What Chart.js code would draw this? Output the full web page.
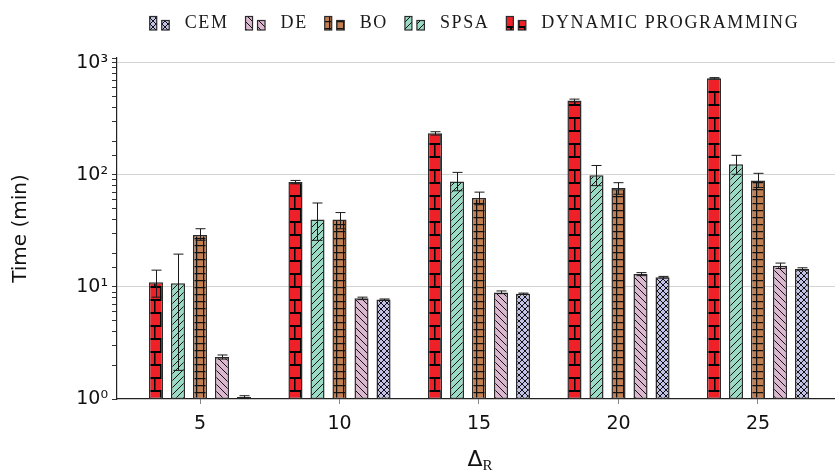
<!DOCTYPE html>
<html>
<head>
<meta charset="utf-8">
<script src="https://cdn.jsdelivr.net/npm/chart.js@4/dist/chart.umd.min.js"></script>
<style>
  html, body { margin: 0; padding: 0; background: #fff; }
</style>
</head>
<body>
<canvas id="chart" width="835" height="473"></canvas>
<script>
// values (minutes)
const categories = [5, 10, 15, 20, 25];

const dpMean  = [11.0, 86, 234, 460, 725];
const dpLow   = [8.1, 83, 226, 447, 715];
const dpHigh  = [14.1, 89, 242, 473, 735];

const spsaMean = [10.8, 40, 87, 99, 124];
const spsaLow  = [1.8, 26, 72, 80, 101];
const spsaHigh = [19.6, 56, 105, 121, 149];

const boMean = [29, 40, 62, 76, 89];
const boLow  = [26, 33, 54, 67, 77];
const boHigh = [33, 46, 70, 85, 103];

const deMean = [2.37, 7.9, 8.9, 13.0, 15.4];
const deLow  = [2.27, 7.7, 8.7, 12.6, 14.6];
const deHigh = [2.47, 8.1, 9.2, 13.4, 16.3];

const cemMean = [1.04, 7.7, 8.7, 12.2, 14.4];
const cemLow  = [1.01, 7.6, 8.6, 12.0, 14.1];
const cemHigh = [1.07, 7.8, 8.8, 12.4, 14.8];

const yTickPowers = [0, 1, 2, 3];

const SANS = '"DejaVu Sans", sans-serif';
const SERIF = '"Liberation Serif", serif';
const EDGE = '#2b2b2b';

// pattern tiles, pgfplots style
function makePattern(kind, bg) {
  const t = document.createElement('canvas');
  let w = 7, h = 7;
  if (kind === 'bricks') { w = 14; h = 26; }
  if (kind === 'cross') { w = 6; h = 6; }
  t.width = w; t.height = h;
  const c = t.getContext('2d');
  c.fillStyle = bg;
  c.fillRect(0, 0, w, h);
  c.strokeStyle = '#111';
  c.lineWidth = 1;
  c.beginPath();
  if (kind === 'bricks') {
    c.strokeStyle = '#000';
    c.fillStyle = '#000';
    // mortar lines as filled strips
    c.fillRect(0, 0, w, 2);
    c.fillRect(0, 13, w, 2);
    c.fillRect(6, 0, 2, 13);
    c.fillRect(0, 13, 1.5, 13);
  } else if (kind === 'ne') {
    c.moveTo(-1, h + 1); c.lineTo(w + 1, -1);
    c.moveTo(-1, 1); c.lineTo(1, -1);
    c.moveTo(w - 1, h + 1); c.lineTo(w + 1, h - 1);
  } else if (kind === 'nw') {
    c.moveTo(-1, -1); c.lineTo(w + 1, h + 1);
    c.moveTo(w - 1, -1); c.lineTo(w + 1, 1);
    c.moveTo(-1, h - 1); c.lineTo(1, h + 1);
  } else if (kind === 'grid') {
    c.lineWidth = 1.3;
    c.moveTo(0, 0.6); c.lineTo(w, 0.6);
    c.moveTo(0.6, 0); c.lineTo(0.6, h);
  } else if (kind === 'cross') {
    c.moveTo(0, 0); c.lineTo(w, h);
    c.moveTo(w, 0); c.lineTo(0, h);
  }
  c.stroke();
  return c.createPattern(t, 'repeat');
}

const ctx = document.getElementById('chart').getContext('2d');

const pts = arr => categories.map((x, i) => ({ x: x, y: arr[i] }));

const series = [
  { label: 'DYNAMIC PROGRAMMING', mean: dpMean, low: dpLow, high: dpHigh, fill: makePattern('bricks', '#ee2028') },
  { label: 'SPSA', mean: spsaMean, low: spsaLow, high: spsaHigh, fill: makePattern('ne', '#98dac3') },
  { label: 'BO', mean: boMean, low: boLow, high: boHigh, fill: makePattern('grid', '#c27f52') },
  { label: 'DE', mean: deMean, low: deLow, high: deHigh, fill: makePattern('nw', '#dcb7d0') },
  { label: 'CEM', mean: cemMean, low: cemLow, high: cemHigh, fill: makePattern('cross', '#c2c2e8') },
];

const data = {
  datasets: series.map(s => ({
    label: s.label,
    data: pts(s.mean),
    errLow: s.low,
    errHigh: s.high,
    backgroundColor: s.fill,
    borderColor: EDGE,
    borderWidth: 1.5,
    borderSkipped: false,
    categoryPercentage: 0.789,
    barPercentage: 0.64,
  })),
};

// error bars on top of each bar
const errorBars = {
  id: 'errorBars',
  afterDatasetsDraw(chart) {
    const y = chart.scales.y;
    const c = chart.ctx;
    c.save();
    c.strokeStyle = '#1a1a1a';
    c.lineWidth = 1;
    chart.data.datasets.forEach((ds, di) => {
      chart.getDatasetMeta(di).data.forEach((bar, i) => {
        const x = Math.round(bar.x) + 0.5;
        const yl = y.getPixelForValue(ds.errLow[i]);
        const yh = y.getPixelForValue(ds.errHigh[i]);
        c.beginPath();
        c.moveTo(x, yl); c.lineTo(x, yh);
        c.moveTo(x - 5, yh); c.lineTo(x + 5, yh);
        c.moveTo(x - 5, yl); c.lineTo(x + 5, yl);
        c.stroke();
      });
    });
    c.restore();
  }
};

// legend row: reversed order, two small pattern bars per entry
const keyRow = {
  id: 'keyRow',
  afterDraw(chart) {
    const c = chart.ctx;
    const items = chart.data.datasets.slice().reverse();
    c.save();
    c.font = '18px ' + SERIF;
    c.letterSpacing = '1.6px';
    const iconW = 20, iconGap = 15, itemGap = 17;
    const widths = items.map(ds => iconW + iconGap + c.measureText(ds.label).width);
    const total = widths.reduce((a, b) => a + b, 0) + itemGap * (items.length - 1);
    let x = 474.5 - total / 2;
    items.forEach((ds, i) => {
      c.fillStyle = ds.backgroundColor;
      c.strokeStyle = EDGE;
      c.lineWidth = 1.2;
      c.fillRect(x, 16.5, 7, 13.5);
      c.strokeRect(x, 16.5, 7, 13.5);
      c.fillRect(x + 12, 20.5, 7.5, 9.5);
      c.strokeRect(x + 12, 20.5, 7.5, 9.5);
      c.fillStyle = '#1a1a1a';
      c.textBaseline = 'alphabetic';
      c.fillText(ds.label, x + iconW + iconGap, 28);
      x += widths[i] + itemGap;
    });
    c.restore();
  }
};

// x axis title with subscript
const xTitle = {
  id: 'xTitle',
  afterDraw(chart) {
    const c = chart.ctx;
    const a = chart.chartArea;
    const cx = (a.left + a.right) / 2 + 4;
    c.save();
    c.fillStyle = '#111';
    c.textBaseline = 'alphabetic';
    c.font = '22px ' + SANS;
    const dw = c.measureText('Δ').width;
    c.font = '15px ' + SERIF;
    const rw = c.measureText('R').width;
    const x0 = cx - (dw + rw) / 2;
    c.font = '22px ' + SANS;
    c.fillText('Δ', x0, 466);
    c.font = '15px ' + SERIF;
    c.fillText('R', x0 + dw, 470);
    c.restore();
  }
};

const isPow10 = v => {
  const e = Math.log10(v);
  return Math.abs(e - Math.round(e)) < 1e-6;
};
const sup = { 0: '⁰', 1: '¹', 2: '²', 3: '³' };

const options = {
  responsive: false,
  animation: false,
  devicePixelRatio: 1,
  layout: { padding: { top: 58, right: 0, left: 0, bottom: 0 } },
  plugins: {
    legend: { display: false },
    tooltip: { enabled: false },
  },
  scales: {
    x: {
      type: 'linear',
      min: 2.025,
      max: 27.76,
      offset: false,
      afterBuildTicks: axis => { axis.ticks = categories.map(v => ({ value: v })); },
      afterFit: axis => { axis.height = 74; },
      ticks: {
        font: { family: SANS, size: 19 },
        color: '#111',
        padding: 9,
        callback: v => String(v),
      },
      grid: { offset: false, drawOnChartArea: false, tickLength: 5, tickColor: '#888' },
      border: { color: '#222', width: 1.2 },
    },
    y: {
      type: 'logarithmic',
      min: 1,
      max: 1100,
      afterFit: axis => { axis.width = 117; },
      ticks: {
        autoSkip: false,
        font: { family: SANS, size: 19 },
        color: '#111',
        padding: 4,
        callback: v => isPow10(v) && yTickPowers.includes(Math.round(Math.log10(v)))
          ? '10' + sup[Math.round(Math.log10(v))] : '',
      },
      grid: {
        color: c => (c.tick && isPow10(c.tick.value) && c.tick.value > 1 ? '#d4d4d4' : 'rgba(0,0,0,0)'),
        tickColor: '#333',
        tickLength: 5,
        lineWidth: 1,
      },
      border: { color: '#222', width: 1.2 },
      title: {
        display: true,
        text: 'Time (min)',
        font: { family: SANS, size: 20 },
        color: '#111',
        padding: { top: 9, bottom: 0 },
      },
    },
  },
};

new Chart(ctx, {
  type: 'bar',
  data: data,
  options: options,
  plugins: [errorBars, keyRow, xTitle],
});
</script>
</body>
</html>
